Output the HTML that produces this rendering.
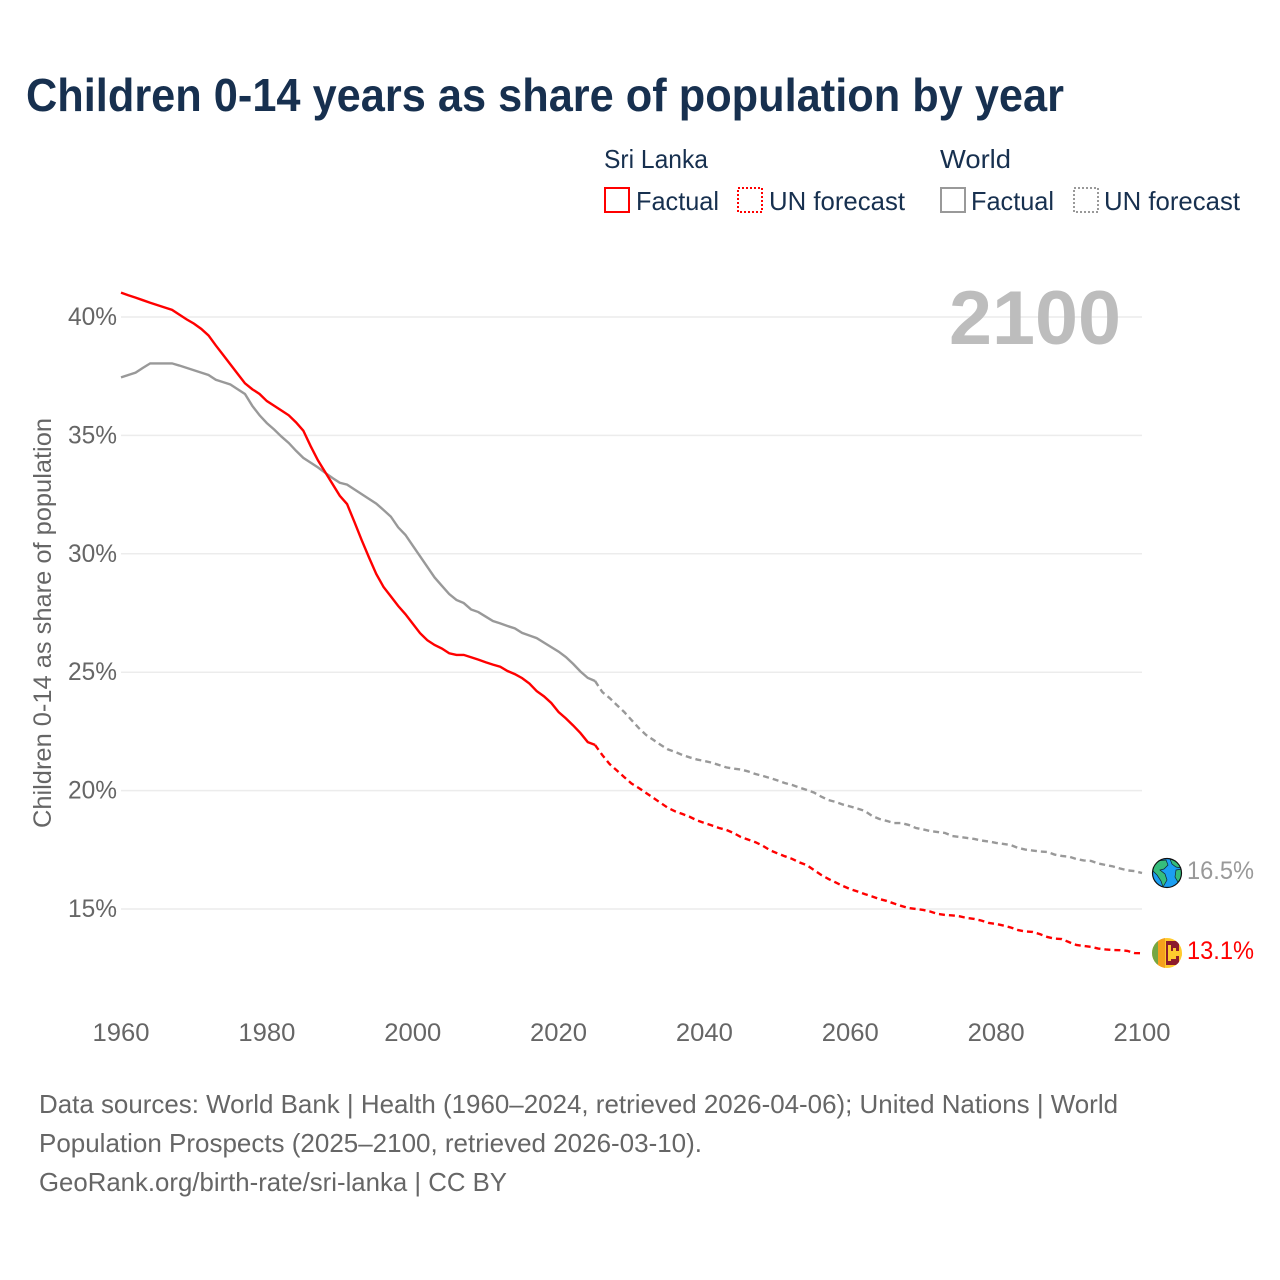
<!DOCTYPE html>
<html lang="en">
<head>
<meta charset="utf-8">
<title>Children 0-14 years as share of population by year</title>
<style>
html,body{margin:0;padding:0;background:#fff;}
svg{display:block;}
text{font-family:"Liberation Sans",sans-serif;}
</style>
</head>
<body>
<svg id="chart" xmlns="http://www.w3.org/2000/svg" width="1280" height="1280" viewBox="0 0 1280 1280">
  <rect width="1280" height="1280" fill="#fff"/>
  <text x="26" y="111" font-size="46" font-weight="700" fill="#17304f" textLength="1038" lengthAdjust="spacingAndGlyphs">Children 0-14 years as share of population by year</text>

  <g font-size="26" fill="#17304f">
    <text x="604" y="168" textLength="104" lengthAdjust="spacingAndGlyphs">Sri Lanka</text>
    <text x="940" y="168" textLength="71" lengthAdjust="spacingAndGlyphs">World</text>
    <rect x="605" y="188" width="24" height="24" fill="none" stroke="#f00" stroke-width="2"/>
    <text x="636" y="210" textLength="83" lengthAdjust="spacingAndGlyphs">Factual</text>
    <rect x="738" y="188" width="24" height="24" fill="none" stroke="#f00" stroke-width="2" stroke-dasharray="2 2"/>
    <text x="769" y="210" textLength="136" lengthAdjust="spacingAndGlyphs">UN forecast</text>
    <rect x="941" y="188" width="24" height="24" fill="none" stroke="#999" stroke-width="2"/>
    <text x="971" y="210" textLength="83" lengthAdjust="spacingAndGlyphs">Factual</text>
    <rect x="1074" y="188" width="24" height="24" fill="none" stroke="#999" stroke-width="2" stroke-dasharray="2 2"/>
    <text x="1104" y="210" textLength="136" lengthAdjust="spacingAndGlyphs">UN forecast</text>
  </g>

  <g id="grid"></g>
  <text x="949" y="344" font-size="76" font-weight="700" fill="#bdbdbd" textLength="172" lengthAdjust="spacingAndGlyphs">2100</text>
  <g id="yticks" font-size="25" fill="#666"></g>
  <g id="xticks" font-size="25" fill="#666"></g>
  <text transform="translate(51,828) rotate(-90)" font-size="25" fill="#666" textLength="410" lengthAdjust="spacingAndGlyphs">Children 0-14 as share of population</text>
  <g id="series"></g>

  <g>
    <defs>
      <clipPath id="globe-clip"><circle cx="1167" cy="873" r="14.500"/></clipPath>
      <clipPath id="flag-clip"><circle cx="1167" cy="953" r="15"/></clipPath>
    </defs>
    <circle cx="1167" cy="873" r="14.500" fill="#1b9ff2"/>
    <g clip-path="url(#globe-clip)" fill="#35bd7c" stroke="#123" stroke-width="0.700">
      <polygon points="1157,861 1166,860 1168,865 1164,869 1160,870 1165,874 1167,880 1163,887 1161,881 1157,875 1153,871 1153,866"/>
      <polygon points="1170,859 1178,862 1181,868 1176,867 1172,864"/>
      <polygon points="1176,870 1182,869 1182,878 1178,882 1175,877"/>
    </g>
    <circle cx="1167" cy="873" r="14.500" fill="none" stroke="#111" stroke-width="1.200"/>
  </g>
  <g clip-path="url(#flag-clip)">
    <rect x="1152" y="938" width="30" height="30" fill="#ffcb2e"/>
    <rect x="1152" y="938" width="6" height="30" fill="#75a743"/>
    <rect x="1158" y="938" width="7" height="30" fill="#f5a01c"/>
    <rect x="1166" y="941" width="13" height="24" fill="#8d1b2b"/>
    <path d="M1168 945h3v6h2v-3h3v3h3v2h3v3h-6v3h-5v2h-3z" fill="#ffcb2e"/>
  </g>
  <text x="1187" y="879" font-size="25" fill="#999" textLength="67" lengthAdjust="spacingAndGlyphs">16.5%</text>
  <text x="1187" y="959" font-size="25" fill="#f00" textLength="67" lengthAdjust="spacingAndGlyphs">13.1%</text>

  <g font-size="26" fill="#666">
    <text x="39" y="1113" textLength="1079" lengthAdjust="spacingAndGlyphs">Data sources: World Bank | Health (1960–2024, retrieved 2026-04-06); United Nations | World</text>
    <text x="39" y="1152" textLength="663" lengthAdjust="spacingAndGlyphs">Population Prospects (2025–2100, retrieved 2026-03-10).</text>
    <text x="39" y="1191" textLength="468" lengthAdjust="spacingAndGlyphs">GeoRank.org/birth-rate/sri-lanka | CC BY</text>
  </g>
</svg>
<script>
const xTickYears = [1960, 1980, 2000, 2020, 2040, 2060, 2080, 2100];
const yTickValues = [15, 20, 25, 30, 35, 40];
const factualStartYear = 1960;
const forecastStartYear = 2025;
const sriLankaFactual = [41.03,40.92,40.82,40.71,40.60,40.50,40.40,40.30,40.10,39.90,39.72,39.50,39.22,38.80,38.40,38.00,37.60,37.20,36.95,36.75,36.45,36.25,36.05,35.85,35.55,35.20,34.55,33.95,33.45,32.95,32.45,32.10,31.35,30.58,29.85,29.15,28.60,28.20,27.80,27.45,27.05,26.65,26.35,26.15,26.00,25.80,25.73,25.73,25.63,25.53,25.42,25.32,25.23,25.05,24.92,24.75,24.52,24.20,23.98,23.70,23.32,23.05,22.75,22.43,22.05,21.93];
const worldFactual = [37.45,37.55,37.65,37.85,38.04,38.04,38.04,38.04,37.95,37.85,37.75,37.65,37.55,37.35,37.25,37.15,36.95,36.75,36.25,35.85,35.52,35.25,34.95,34.68,34.35,34.05,33.85,33.65,33.42,33.20,33.00,32.92,32.72,32.52,32.32,32.12,31.85,31.57,31.12,30.80,30.35,29.90,29.45,29.00,28.65,28.30,28.05,27.92,27.65,27.54,27.35,27.16,27.06,26.95,26.85,26.66,26.55,26.44,26.25,26.06,25.87,25.64,25.35,25.03,24.76,24.63];
const sriLankaForecast = [21.93,21.50,21.12,20.85,20.57,20.30,20.11,19.90,19.69,19.48,19.27,19.12,19.01,18.89,18.74,18.63,18.53,18.42,18.34,18.21,18.04,17.93,17.82,17.67,17.48,17.35,17.23,17.12,16.97,16.86,16.65,16.44,16.27,16.12,15.97,15.84,15.74,15.63,15.53,15.42,15.34,15.23,15.13,15.04,15.00,14.96,14.89,14.79,14.75,14.73,14.69,14.62,14.58,14.51,14.41,14.37,14.30,14.22,14.11,14.05,14.03,13.94,13.82,13.75,13.73,13.60,13.48,13.44,13.40,13.33,13.29,13.27,13.26,13.23,13.14,13.13];
const worldForecast = [24.63,24.16,23.91,23.61,23.32,22.98,22.64,22.35,22.14,21.93,21.74,21.63,21.50,21.40,21.31,21.25,21.18,21.08,20.98,20.93,20.89,20.81,20.70,20.62,20.53,20.43,20.32,20.24,20.13,20.03,19.92,19.75,19.60,19.52,19.41,19.33,19.24,19.14,18.93,18.80,18.72,18.63,18.63,18.55,18.42,18.36,18.29,18.25,18.21,18.08,18.04,18.00,17.96,17.89,17.85,17.79,17.75,17.70,17.58,17.51,17.47,17.43,17.41,17.30,17.24,17.21,17.11,17.05,17.03,16.92,16.86,16.80,16.71,16.63,16.60,16.52];

const NS = 'http://www.w3.org/2000/svg';
function xScale(year) { return 121 + (year - 1960) * (1142 - 121) / 140; }
function yScale(value) { return 317 + (40 - value) * (909 - 317) / 25; }

const gridGroup = document.getElementById('grid');
const yTickGroup = document.getElementById('yticks');
yTickValues.forEach(function (value) {
  const line = document.createElementNS(NS, 'line');
  
  
  line.setAttribute('x1', 121);
  line.setAttribute('x2', 1142);
  line.setAttribute('y1', yScale(value));
  line.setAttribute('y2', yScale(value));
  line.setAttribute('stroke', '#ececec');
  line.setAttribute('stroke-width', '1.500');
  gridGroup.appendChild(line);

  const label = document.createElementNS(NS, 'text');
  
  
  label.setAttribute('x', 68);
  label.setAttribute('y', yScale(value) + 8);
  label.setAttribute('textLength', '49');
  label.setAttribute('lengthAdjust', 'spacingAndGlyphs');
  label.textContent = value + '%';
  yTickGroup.appendChild(label);
});

const xTickGroup = document.getElementById('xticks');
xTickYears.forEach(function (year) {
  const label = document.createElementNS(NS, 'text');
  
  
  label.setAttribute('x', xScale(year) - 28.500);
  label.setAttribute('y', 1041);
  label.setAttribute('textLength', '57');
  label.setAttribute('lengthAdjust', 'spacingAndGlyphs');
  label.textContent = year;
  xTickGroup.appendChild(label);
});

function linePoints(values, startYear) {
  return values.map(function (value, i) {
    return xScale(startYear + i).toFixed(2) + ',' + yScale(value).toFixed(2);
  }).join(' ');
}

const seriesGroup = document.getElementById('series');

const worldFactualLine = document.createElementNS(NS, 'polyline');


worldFactualLine.setAttribute('points', linePoints(worldFactual, factualStartYear));
worldFactualLine.setAttribute('fill', 'none');
worldFactualLine.setAttribute('stroke', '#999');
worldFactualLine.setAttribute('stroke-width', '2.400');
seriesGroup.appendChild(worldFactualLine);

const worldForecastLine = document.createElementNS(NS, 'polyline');


worldForecastLine.setAttribute('points', linePoints(worldForecast, forecastStartYear));
worldForecastLine.setAttribute('fill', 'none');
worldForecastLine.setAttribute('stroke', '#999');
worldForecastLine.setAttribute('stroke-width', '2.400');
worldForecastLine.setAttribute('stroke-dasharray', '6 4');
seriesGroup.appendChild(worldForecastLine);

const sriLankaFactualLine = document.createElementNS(NS, 'polyline');


sriLankaFactualLine.setAttribute('points', linePoints(sriLankaFactual, factualStartYear));
sriLankaFactualLine.setAttribute('fill', 'none');
sriLankaFactualLine.setAttribute('stroke', '#f00');
sriLankaFactualLine.setAttribute('stroke-width', '2.400');
seriesGroup.appendChild(sriLankaFactualLine);

const sriLankaForecastLine = document.createElementNS(NS, 'polyline');


sriLankaForecastLine.setAttribute('points', linePoints(sriLankaForecast, forecastStartYear));
sriLankaForecastLine.setAttribute('fill', 'none');
sriLankaForecastLine.setAttribute('stroke', '#f00');
sriLankaForecastLine.setAttribute('stroke-width', '2.400');
sriLankaForecastLine.setAttribute('stroke-dasharray', '6 4');
seriesGroup.appendChild(sriLankaForecastLine);
</script>
</body>
</html>
